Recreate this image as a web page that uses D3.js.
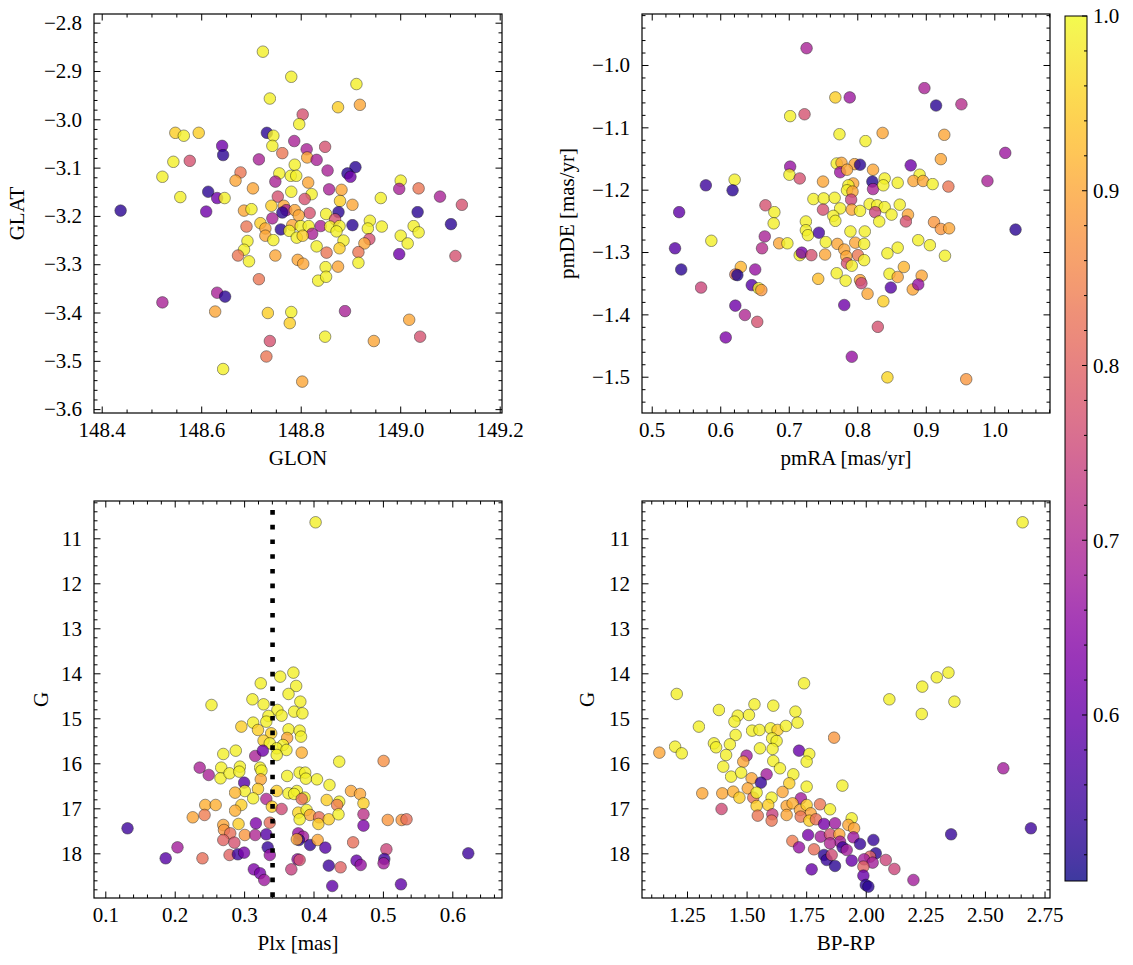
<!DOCTYPE html>
<html><head><meta charset="utf-8">
<script src="https://cdn.jsdelivr.net/npm/d3@7"></script>
<style>body{margin:0;background:#fff}svg{display:block}</style>
</head><body><svg id="c" width="1133" height="965"></svg>
<script>
// ---------- data ----------
const glon = [148.724,148.781,148.912,148.738,148.875,148.919,148.804,148.797,148.548,148.565,148.595,148.732,148.745,148.743,148.642,148.644,148.787,148.763,148.812,148.849,148.813,148.716,148.832,148.577,148.544,148.522,148.788,148.757,148.780,148.791,148.854,148.910,148.894,148.900,148.679,148.669,148.749,148.704,148.815,148.781,148.822,148.857,148.882,149.001,148.998,149.037,148.558,148.614,148.632,148.647,148.754,148.808,148.879,148.904,148.961,149.080,149.124,148.438,148.610,148.686,148.701,148.741,148.766,148.771,148.763,148.788,148.818,148.851,148.876,148.869,148.743,148.796,148.719,148.691,148.729,148.760,148.783,148.800,148.816,148.840,148.859,148.878,148.904,148.939,148.935,148.963,149.035,149.027,149.037,149.102,148.823,148.729,148.745,148.777,148.792,148.804,148.872,148.886,148.832,148.878,148.693,148.686,148.938,148.928,149.001,149.015,148.998,149.111,148.674,148.696,148.749,148.852,148.916,148.794,148.805,148.850,148.875,148.916,148.716,148.835,148.851,148.632,148.648,148.522,148.628,148.734,148.781,148.778,148.889,149.018,148.738,148.849,148.947,149.040,148.731,148.644,148.803];
const glat = [-2.860,-2.912,-2.927,-2.957,-2.975,-2.970,-2.990,-3.010,-3.028,-3.034,-3.028,-3.028,-3.034,-3.055,-3.055,-3.074,-3.045,-3.070,-3.062,-3.057,-3.079,-3.083,-3.084,-3.086,-3.088,-3.119,-3.094,-3.112,-3.117,-3.117,-3.106,-3.099,-3.112,-3.119,-3.110,-3.127,-3.129,-3.143,-3.131,-3.150,-3.155,-3.145,-3.146,-3.127,-3.144,-3.143,-3.161,-3.150,-3.163,-3.163,-3.160,-3.165,-3.169,-3.177,-3.163,-3.160,-3.177,-3.189,-3.191,-3.189,-3.186,-3.179,-3.179,-3.188,-3.193,-3.188,-3.194,-3.196,-3.192,-3.207,-3.205,-3.199,-3.215,-3.222,-3.226,-3.228,-3.219,-3.221,-3.221,-3.221,-3.222,-3.221,-3.219,-3.210,-3.226,-3.222,-3.192,-3.221,-3.234,-3.217,-3.237,-3.241,-3.250,-3.231,-3.245,-3.241,-3.232,-3.251,-3.263,-3.267,-3.252,-3.270,-3.248,-3.257,-3.241,-3.257,-3.279,-3.283,-3.282,-3.294,-3.282,-3.276,-3.275,-3.291,-3.299,-3.306,-3.305,-3.297,-3.331,-3.334,-3.326,-3.359,-3.367,-3.379,-3.398,-3.401,-3.399,-3.422,-3.397,-3.415,-3.459,-3.450,-3.459,-3.450,-3.491,-3.517,-3.543];
const prob1 = [.99,.99,.99,.99,.95,.90,.77,.99,.95,.99,.95,.53,.99,.99,.61,.53,.69,.83,.69,.77,.90,.69,.69,.77,.99,.99,.99,.99,.99,.99,.69,.53,.53,.61,.83,.90,.69,.90,.90,.99,.99,.69,.90,.99,.69,.83,.99,.53,.61,.99,.77,.77,.95,.90,.99,.69,.77,.53,.61,.90,.99,.95,.90,.69,.53,.90,.77,.99,.53,.77,.69,.90,.95,.83,.90,.53,.90,.99,.99,.69,.99,.99,.53,.99,.99,.99,.53,.99,.99,.53,.69,.90,.99,.99,.99,.95,.99,.99,.99,.95,.99,.99,.77,.90,.99,.99,.61,.77,.83,.99,.90,.83,.83,.90,.90,.99,.90,.99,.83,.99,.99,.69,.53,.69,.90,.95,.99,.95,.69,.90,.77,.99,.90,.77,.83,.99,.90];

const pmra = [0.726,0.898,0.915,0.952,0.768,0.789,0.702,0.723,0.774,0.812,0.837,0.927,0.922,1.016,0.702,0.701,0.716,0.770,0.777,0.796,0.804,0.775,0.785,0.823,0.878,0.621,0.579,0.618,0.750,0.822,0.823,0.840,0.838,0.859,0.794,0.787,0.785,0.793,0.891,0.882,0.896,0.910,0.933,0.990,0.540,0.666,0.679,0.736,0.751,0.767,0.750,0.775,0.791,0.792,0.804,0.818,0.829,0.840,0.862,0.765,0.768,0.826,0.832,0.850,0.874,0.871,0.912,0.922,0.934,1.031,0.678,0.725,0.725,0.728,0.744,0.790,0.811,0.587,0.665,0.661,0.534,0.686,0.698,0.754,0.771,0.781,0.797,0.810,0.801,0.889,0.906,0.859,0.844,0.928,0.716,0.719,0.733,0.753,0.784,0.785,0.792,0.810,0.543,0.630,0.622,0.625,0.651,0.770,0.783,0.804,0.806,0.847,0.859,0.868,0.894,0.743,0.646,0.656,0.660,0.572,0.815,0.849,0.881,0.889,0.838,0.781,0.622,0.636,0.654,0.830,0.608,0.792,0.844,0.959];
const pmde = [-0.973,-1.037,-1.065,-1.063,-1.052,-1.052,-1.082,-1.079,-1.111,-1.122,-1.109,-1.112,-1.151,-1.141,-1.163,-1.176,-1.182,-1.158,-1.157,-1.159,-1.160,-1.172,-1.168,-1.168,-1.161,-1.184,-1.193,-1.201,-1.187,-1.187,-1.199,-1.182,-1.193,-1.189,-1.190,-1.193,-1.201,-1.203,-1.176,-1.186,-1.186,-1.191,-1.195,-1.186,-1.236,-1.225,-1.236,-1.215,-1.214,-1.213,-1.232,-1.230,-1.216,-1.232,-1.234,-1.223,-1.225,-1.228,-1.224,-1.242,-1.250,-1.236,-1.251,-1.240,-1.240,-1.251,-1.252,-1.263,-1.262,-1.264,-1.254,-1.251,-1.265,-1.273,-1.269,-1.267,-1.267,-1.282,-1.275,-1.294,-1.294,-1.286,-1.286,-1.284,-1.287,-1.296,-1.285,-1.287,-1.305,-1.281,-1.289,-1.293,-1.302,-1.306,-1.305,-1.301,-1.305,-1.304,-1.307,-1.318,-1.322,-1.313,-1.328,-1.324,-1.336,-1.337,-1.328,-1.334,-1.346,-1.345,-1.350,-1.335,-1.340,-1.324,-1.338,-1.343,-1.353,-1.358,-1.361,-1.357,-1.367,-1.357,-1.360,-1.352,-1.379,-1.385,-1.386,-1.401,-1.412,-1.420,-1.437,-1.468,-1.501,-1.504];
const prob2 = [.69,.69,.53,.71,.95,.67,.99,.77,.99,.99,.90,.90,.90,.67,.66,.99,.77,.99,.90,.90,.53,.67,.90,.90,.61,.99,.55,.53,.90,.52,.69,.99,.99,.99,.90,.99,.99,.90,.99,.90,.90,.99,.83,.69,.59,.77,.99,.99,.99,.99,.77,.99,.75,.90,.99,.99,.99,.99,.99,.99,.99,.75,.99,.99,.90,.77,.88,.88,.90,.53,.99,.99,.99,.99,.56,.99,.99,.99,.69,.71,.58,.90,.99,.99,.90,.90,.90,.99,.83,.99,.99,.99,.99,.99,.99,.62,.77,.90,.90,.77,.99,.99,.53,.92,.83,.52,.66,.99,.99,.90,.75,.99,.90,.92,.90,.93,.58,.99,.88,.75,.90,.58,.90,.66,.95,.61,.61,.70,.77,.77,.63,.66,.96,.88];

const plx = [0.403,0.352,0.371,0.324,0.375,0.364,0.253,0.312,0.328,0.381,0.348,0.372,0.384,0.354,0.335,0.296,0.313,0.320,0.332,0.364,0.380,0.382,0.362,0.339,0.328,0.337,0.356,0.347,0.361,0.347,0.270,0.288,0.316,0.327,0.383,0.437,0.501,0.236,0.249,0.267,0.266,0.279,0.294,0.293,0.323,0.325,0.324,0.300,0.362,0.380,0.388,0.389,0.405,0.423,0.320,0.301,0.287,0.347,0.364,0.376,0.372,0.387,0.383,0.313,0.332,0.419,0.437,0.434,0.454,0.467,0.472,0.244,0.259,0.296,0.287,0.340,0.354,0.378,0.390,0.395,0.408,0.380,0.407,0.422,0.436,0.226,0.243,0.472,0.472,0.507,0.527,0.534,0.132,0.270,0.292,0.317,0.337,0.271,0.280,0.301,0.316,0.332,0.270,0.286,0.378,0.385,0.379,0.376,0.395,0.406,0.417,0.457,0.505,0.204,0.187,0.240,0.279,0.291,0.300,0.334,0.337,0.377,0.380,0.422,0.439,0.462,0.468,0.502,0.501,0.314,0.323,0.329,0.368,0.623,0.427,0.526];
const gmag3 = [10.644,14.074,13.985,14.222,14.281,14.459,14.704,14.578,14.689,14.630,14.815,14.852,14.889,14.941,14.948,15.185,15.096,15.259,15.074,15.244,15.274,15.407,15.437,15.333,15.496,15.556,15.593,15.667,15.704,15.815,15.793,15.719,15.837,15.719,15.763,15.963,15.948,16.096,16.259,16.096,16.333,16.222,16.074,16.185,16.096,16.163,16.356,16.430,16.281,16.207,16.207,16.341,16.356,16.481,16.570,16.615,16.652,16.615,16.667,16.615,16.681,16.763,16.793,16.778,16.793,16.815,16.852,16.926,16.615,16.681,16.889,16.926,16.926,16.926,17.052,16.963,17.015,17.096,17.037,17.148,17.200,17.244,17.348,17.244,17.133,17.200,17.148,17.133,17.385,17.259,17.259,17.244,17.444,17.370,17.348,17.333,17.319,17.481,17.556,17.593,17.593,17.578,17.704,17.763,17.556,17.630,17.704,17.689,17.815,17.704,17.874,17.756,17.911,17.867,18.111,18.111,18.037,18.022,17.985,17.867,18.037,18.133,18.148,18.274,18.311,18.163,18.259,18.126,18.222,18.356,18.444,18.593,18.356,18.000,18.726,18.689];
const prob3 = [.99,.99,.99,.99,.99,.99,.99,.99,.99,.99,.99,.99,.99,.99,.99,.95,.99,.95,.99,.99,.99,.99,.90,.95,.95,.99,.99,.99,.99,.99,.99,.99,.69,.61,.91,.99,.87,.69,.69,.99,.99,.99,.99,.99,.99,.99,.90,.58,.99,.99,.99,.99,.99,.99,.95,.99,.92,.95,.99,.99,.99,.99,.82,.99,.70,.95,.99,.84,.90,.90,.95,.91,.91,.95,.91,.95,.76,.96,.99,.90,.82,.99,.95,.95,.99,.90,.84,.72,.63,.88,.88,.82,.55,.90,.95,.63,.82,.88,.82,.88,.70,.58,.80,.77,.66,.68,.53,.90,.54,.90,.58,.82,.75,.68,.58,.82,.80,.55,.62,.54,.66,.66,.77,.55,.80,.60,.66,.55,.68,.63,.62,.67,.74,.55,.59,.59];
const plxRef = [0.341];

const bprp = [2.658,1.741,1.207,2.347,2.298,2.237,2.099,2.372,2.235,1.384,1.533,1.612,1.463,1.510,1.449,1.705,1.300,1.523,1.554,1.601,1.630,1.665,1.714,1.454,1.363,1.372,1.430,1.556,1.607,1.626,1.609,1.200,1.228,1.134,1.414,1.867,1.720,1.763,1.500,1.752,1.612,1.402,1.486,1.640,1.696,1.435,1.477,1.521,1.584,1.560,1.679,1.752,1.902,1.314,1.398,1.444,1.470,1.505,1.528,1.542,1.651,1.605,1.728,1.395,1.542,1.547,1.591,1.608,1.605,1.668,1.693,1.668,1.724,1.752,1.769,1.727,1.763,1.808,1.850,1.791,1.825,1.871,1.941,1.927,1.951,1.692,1.758,1.811,1.850,1.889,1.892,1.850,1.948,1.976,2.032,1.720,1.783,1.825,1.836,1.857,1.903,1.941,1.871,1.920,2.042,2.018,1.993,2.029,2.084,2.120,1.990,1.990,2.000,2.011,1.773,2.200,2.577,2.358,2.693];
const gmag4 = [10.644,14.222,14.459,13.985,14.089,14.296,14.578,14.630,14.904,14.815,14.689,14.719,14.941,14.926,15.074,14.852,15.185,15.274,15.259,15.222,15.259,15.170,15.096,15.370,15.556,15.644,15.578,15.667,15.444,15.504,15.681,15.630,15.778,15.763,15.815,15.430,15.719,15.793,15.830,15.963,15.948,16.074,15.963,16.111,16.244,16.296,16.207,16.333,16.244,16.430,16.444,16.519,16.496,16.667,16.667,16.630,16.763,16.556,16.763,16.652,16.637,16.763,16.778,17.015,16.948,17.163,16.926,17.133,17.274,16.948,16.889,17.148,17.037,16.926,17.111,17.185,17.274,16.911,17.022,17.244,17.348,17.333,17.222,17.370,17.444,17.726,17.593,17.630,17.578,17.578,17.741,17.778,17.644,17.793,17.704,17.867,17.911,18.037,18.148,18.037,17.867,18.163,18.281,17.926,18.000,18.074,18.133,18.207,18.148,18.348,18.296,18.496,18.704,18.741,18.356,18.593,16.111,17.578,17.444];
const prob4 = [.99,.99,.99,.99,.99,.99,.99,.99,.99,.99,.99,.99,.99,.99,.99,.99,.99,.99,.99,.99,.95,.99,.99,.99,.99,.99,.99,.99,.99,.99,.99,.99,.99,.90,.99,.88,.60,.99,.68,.99,.99,.99,.90,.99,.99,.99,.99,.90,.68,.54,.95,.99,.99,.90,.90,.91,.95,.90,.82,.99,.90,.99,.68,.76,.95,.83,.95,.74,.83,.90,.91,.90,.90,.95,.90,.83,.95,.83,.99,.82,.62,.67,.99,.90,.90,.84,.62,.68,.77,.90,.68,.70,.67,.54,.54,.66,.82,.53,.54,.76,.55,.60,.53,.68,.53,.80,.68,.68,.75,.75,.80,.60,.53,.53,.60,.68,.68,.54,.55];

const cbTicks = [0.6,0.7,0.8,0.9,1.0];
const probRange = [0.505, 1.0];

// ---------- drawing ----------
const svg = d3.select("#c");
const FONT = "'Liberation Serif', 'DejaVu Serif', serif";
const FS = 21;
const color = d3.scaleSequential(d3.interpolatePlasma).domain(probRange);

function stepTicks(lo, hi, step, exclude) {
  const a = Math.ceil(lo/step - 1e-9), b = Math.floor(hi/step + 1e-9);
  return d3.range(a, b+1).map(i => +(i*step).toFixed(6))
    .filter(v => !exclude.some(e => Math.abs(e - v) < step*1e-3));
}

function panel(cfg) {
  const {x0,x1,y0,y1} = cfg.frame;
  const x = d3.scaleLinear().domain(cfg.xd).range([x0,x1]);
  const y = d3.scaleLinear().domain(cfg.yd).range([y0,y1]);
  const g = svg.append("g");
  const id = "clip" + cfg.id;
  svg.append("clipPath").attr("id", id).append("rect")
    .attr("x", x0).attr("y", y0).attr("width", x1-x0).attr("height", y1-y0);

  const pts = g.append("g").attr("clip-path", `url(#${id})`);
  pts.selectAll("circle").data(cfg.xs.map((v,i)=>({x:v, y:cfg.ys[i], p:cfg.ps[i]})))
    .join("circle")
    .attr("cx", d => x(d.x)).attr("cy", d => y(d.y)).attr("r", 5.8)
    .attr("fill", d => color(d.p)).attr("stroke", "#000").attr("stroke-width", 0.5)
    .attr("opacity", 0.8);

  if (cfg.vline) {
    pts.selectAll("line.v").data(cfg.vline).join("line").attr("class","v")
      .attr("x1", d => x(d)).attr("x2", d => x(d)).attr("y1", y0).attr("y2", y1)
      .attr("stroke", "#000").attr("stroke-width", 4.6)
      .attr("stroke-dasharray", "4.6 10.1").attr("stroke-dashoffset", 5.6);
  }

  const xmin = stepTicks(cfg.xd[0], cfg.xd[1], cfg.xminor, cfg.xt);
  const ymin = stepTicks(Math.min(...cfg.yd), Math.max(...cfg.yd), cfg.yminor, cfg.yt);

  function ax(axisFn, scale, vals, size, fmt, pad, tr) {
    const a = axisFn(scale).tickValues(vals).tickSize(-size).tickPadding(pad);
    a.tickFormat(fmt || (() => ""));
    const s = g.append("g").attr("transform", tr).call(a);
    s.select(".domain").remove();
    s.selectAll("line").attr("stroke", "#000").attr("stroke-width", 1);
    s.selectAll("text").attr("font-family", FONT).attr("font-size", FS).attr("fill", "#000");
    return s;
  }
  ax(d3.axisBottom, x, cfg.xt, 6.5, cfg.xf, 9, `translate(0,${y1})`);
  ax(d3.axisBottom, x, xmin, 3.5, null, 9, `translate(0,${y1})`);
  ax(d3.axisTop, x, cfg.xt, 6.5, null, 9, `translate(0,${y0})`);
  ax(d3.axisTop, x, xmin, 3.5, null, 9, `translate(0,${y0})`);
  ax(d3.axisLeft, y, cfg.yt, 6.5, cfg.yf, 12, `translate(${x0},0)`);
  ax(d3.axisLeft, y, ymin, 3.5, null, 12, `translate(${x0},0)`);
  ax(d3.axisRight, y, cfg.yt, 6.5, null, 12, `translate(${x1},0)`);
  ax(d3.axisRight, y, ymin, 3.5, null, 12, `translate(${x1},0)`);

  g.append("rect").attr("x", x0).attr("y", y0).attr("width", x1-x0).attr("height", y1-y0)
    .attr("fill", "none").attr("stroke", "#000").attr("stroke-width", 1.2);

  g.append("text").attr("x", (x0+x1)/2).attr("y", y1 + 52)
    .attr("text-anchor", "middle").attr("font-family", FONT).attr("font-size", FS)
    .text(cfg.xlabel);
  g.append("text").attr("transform", `translate(${cfg.ylabX},${(y0+y1)/2}) rotate(-90)`)
    .attr("dy", "0.35em").attr("text-anchor", "middle").attr("font-family", FONT).attr("font-size", FS)
    .text(cfg.ylabel);
}

const f1 = d3.format(".1f"), f2 = d3.format(".2f"), fd = d3.format("d");

panel({id:1, frame:{x0:94,x1:502,y0:14,y1:413}, xs:glon, ys:glat, ps:prob1,
  xd:[148.3845,149.2046], yd:[-2.782,-3.608],
  xt:[148.4,148.6,148.8,149.0,149.2], yt:[-2.8,-2.9,-3.0,-3.1,-3.2,-3.3,-3.4,-3.5,-3.6],
  xminor:0.05, yminor:0.02, xf:f1, yf:f1, xlabel:"GLON", ylabel:"GLAT", ylabX:17});

panel({id:2, frame:{x0:642,x1:1050,y0:14,y1:413}, xs:pmra, ys:pmde, ps:prob2,
  xd:[0.4858,1.0813], yd:[-0.9182,-1.5582],
  xt:[0.5,0.6,0.7,0.8,0.9,1.0], yt:[-1.0,-1.1,-1.2,-1.3,-1.4,-1.5],
  xminor:0.02, yminor:0.02, xf:f1, yf:f1, xlabel:"pmRA [mas/yr]", ylabel:"pmDE [mas/yr]", ylabX:567});

panel({id:3, frame:{x0:94,x1:502,y0:501,y1:898}, xs:plx, ys:gmag3, ps:prob3,
  xd:[0.0837,0.6716], yd:[10.171,18.993],
  xt:[0.1,0.2,0.3,0.4,0.5,0.6], yt:[11,12,13,14,15,16,17,18],
  xminor:0.02, yminor:0.2, xf:f1, yf:fd, xlabel:"Plx [mas]", ylabel:"G", ylabX:41, vline:plxRef});

panel({id:4, frame:{x0:642,x1:1050,y0:501,y1:898}, xs:bprp, ys:gmag4, ps:prob4,
  xd:[1.0612,2.773], yd:[10.171,18.993],
  xt:[1.25,1.5,1.75,2.0,2.25,2.5,2.75], yt:[11,12,13,14,15,16,17,18],
  xminor:0.05, yminor:0.2, xf:f2, yf:fd, xlabel:"BP-RP", ylabel:"G", ylabX:587});

// ---------- colorbar ----------
const cb = {x0:1065, x1:1087, y0:16, y1:881};
const cy = d3.scaleLinear().domain(probRange).range([cb.y1, cb.y0]);
const defs = svg.append("defs");
const grad = defs.append("linearGradient").attr("id","cbg").attr("x1",0).attr("x2",0).attr("y1",1).attr("y2",0);
d3.range(0, 1.0001, 0.02).forEach(t => grad.append("stop").attr("offset", t)
  .attr("stop-color", d3.interpolatePlasma(t)));
svg.append("rect").attr("x", cb.x0).attr("y", cb.y0).attr("width", cb.x1-cb.x0).attr("height", cb.y1-cb.y0)
  .attr("fill", "url(#cbg)").attr("opacity", 0.8);
const cbMinor = stepTicks(probRange[0], probRange[1], 0.02, cbTicks);
const cbg = svg.append("g");
cbg.selectAll("line.maj").data(cbTicks).join("line").attr("class","maj")
  .attr("x1", cb.x1).attr("x2", cb.x1-5).attr("y1", d=>cy(d)).attr("y2", d=>cy(d))
  .attr("stroke","#000").attr("stroke-width",1);
cbg.selectAll("line.min").data(cbMinor).join("line").attr("class","min")
  .attr("x1", cb.x1).attr("x2", cb.x1-3).attr("y1", d=>cy(d)).attr("y2", d=>cy(d))
  .attr("stroke","#000").attr("stroke-width",1);
cbg.selectAll("text").data(cbTicks).join("text")
  .attr("x", cb.x1 + 6).attr("y", d=>cy(d)).attr("dy","0.35em")
  .attr("font-family", FONT).attr("font-size", FS).text(d => f1(d));
svg.append("rect").attr("x", cb.x0).attr("y", cb.y0).attr("width", cb.x1-cb.x0).attr("height", cb.y1-cb.y0)
  .attr("fill","none").attr("stroke","#000").attr("stroke-width",1);
</script></body></html>
